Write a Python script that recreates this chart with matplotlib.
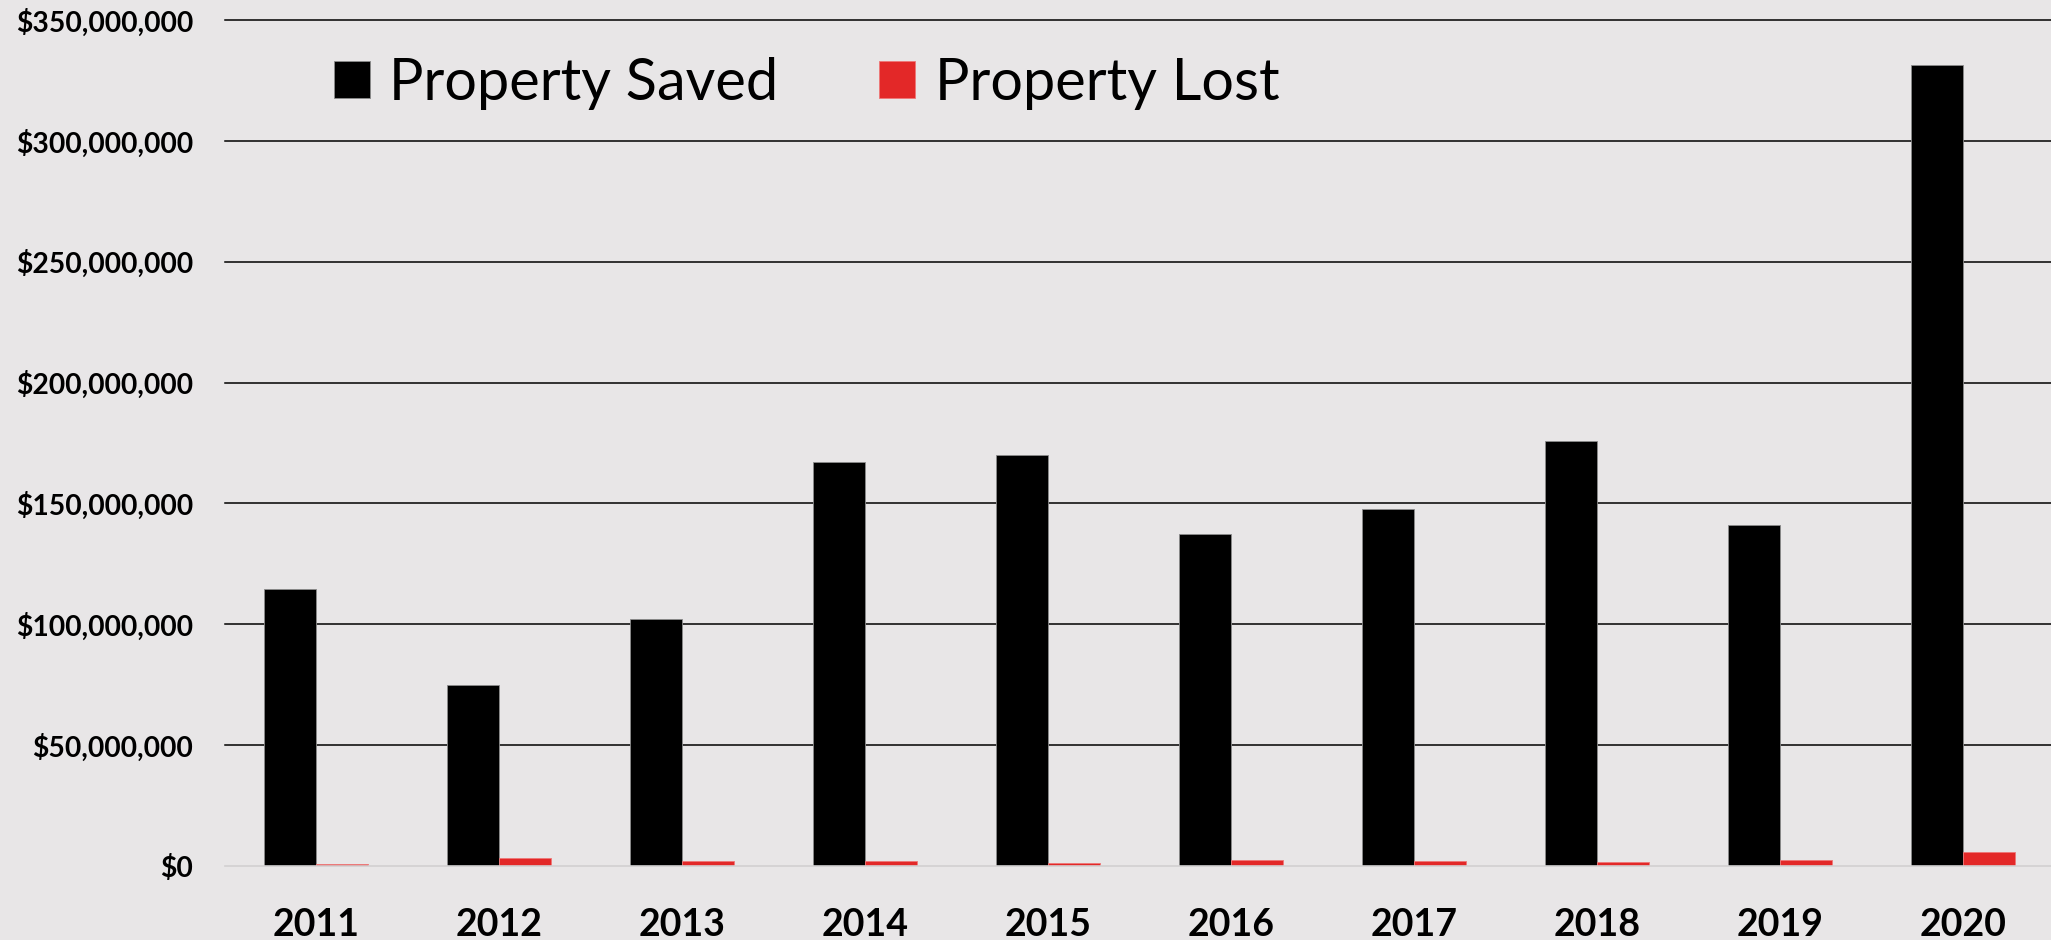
import numpy as np
import matplotlib
matplotlib.use("Agg")
import matplotlib.pyplot as plt
from matplotlib.ticker import FuncFormatter

# values, in dollars
years = ["2011", "2012", "2013", "2014", "2015", "2016", "2017", "2018", "2019", "2020"]
saved = [114.7e6, 74.7e6, 102.3e6, 167.2e6, 169.9e6, 137.4e6, 147.7e6, 175.8e6, 141.2e6, 331.5e6]
lost = [0.8e6, 3.2e6, 2.2e6, 2.0e6, 1.1e6, 2.6e6, 1.9e6, 1.7e6, 2.3e6, 5.8e6]

bg = "#e8e6e7"
red = "#e32828"

fig = plt.figure(figsize=(20.51, 9.40), dpi=100, facecolor=bg)
ax = fig.add_axes([225 / 2051, 74 / 940, 1 - 225 / 2051, 846 / 940], facecolor=bg)

x = np.arange(len(years))
w = 0.284
b1 = ax.bar(x - w / 2, saved, w, color="black", edgecolor="#8c8c8c", linewidth=0.6,
            label="Property Saved", zorder=3)
b2 = ax.bar(x + w / 2, lost, w, color=red, edgecolor="#ee7777", linewidth=0.6,
            label="Property Lost", zorder=3)

ax.set_xlim(-0.497, 9.48)
ax.set_ylim(0, 350e6)
ax.set_yticks(np.arange(0, 350e6 + 1, 50e6))
ax.yaxis.set_major_formatter(FuncFormatter(lambda v, p: "${:,.0f}".format(v)))

# black gridlines, zero line is the light gray bottom spine
for v in np.arange(50e6, 350e6 + 1, 50e6):
    ax.axhline(v, color="black", linewidth=1.1, zorder=1, clip_on=False)

for s in ["top", "right", "left"]:
    ax.spines[s].set_visible(False)
ax.spines["bottom"].set_color("#d2d0d1")
ax.spines["bottom"].set_linewidth(1.2)
ax.spines["bottom"].set_zorder(4)

ax.set_xticks(x)
ax.set_xticklabels(years)
ax.tick_params(axis="both", length=0)
ax.tick_params(axis="y", pad=23)
ax.tick_params(axis="x", pad=30)
for t in ax.get_yticklabels():
    t.set_fontfamily(["Lato", "DejaVu Sans"])
    t.set_fontweight("bold")
    t.set_fontsize(20.3)
for t in ax.get_xticklabels():
    t.set_fontfamily(["Lato", "DejaVu Sans"])
    t.set_fontweight("bold")
    t.set_fontsize(27)

leg = ax.legend(handles=[b1, b2], ncol=2, frameon=False, loc="center left",
                bbox_to_anchor=(334 / 2051, 1 - 83 / 940), bbox_transform=fig.transFigure,
                prop={"family": ["Lato", "DejaVu Sans"], "size": 41.5},
                handlelength=0.62, handleheight=0.62, handletextpad=0.34,
                columnspacing=1.75, borderpad=0, borderaxespad=0)

plt.savefig("out.png", dpi=100, facecolor=bg)
